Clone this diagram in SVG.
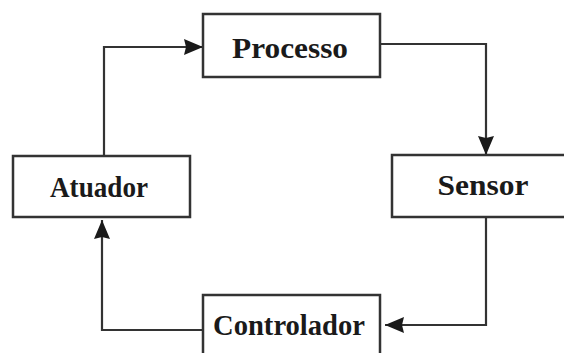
<svg xmlns="http://www.w3.org/2000/svg" width="564" height="353" viewBox="0 0 564 353">
  <style>
    .box { fill: #ffffff; stroke: #333333; stroke-width: 2.5; }
    .lbl { font-family: "Liberation Serif", "Times New Roman", serif; font-weight: bold; font-size: 29px; fill: #1a1a1a; text-anchor: middle; }
    .conn { fill: none; stroke: #333333; stroke-width: 2.2; }
  </style>
  <defs>
    <marker id="arr" markerUnits="userSpaceOnUse" markerWidth="22" markerHeight="18" refX="19" refY="8" orient="auto">
      <path d="M0,0 L19,8 L0,16 L2,8 z" fill="#1a1a1a"/>
    </marker>
  </defs>
  <rect x="0" y="0" width="564" height="353" fill="#ffffff"/>
  <g id="connectors">
    <path class="conn" d="M104,156 V47 H203" marker-end="url(#arr)"/>
    <path class="conn" d="M380,44 H486 V155" marker-end="url(#arr)"/>
    <path class="conn" d="M486,217 V325 H385" marker-end="url(#arr)"/>
    <path class="conn" d="M203,330 H102 V220" marker-end="url(#arr)"/>
  </g>
  <g id="processo">
    <rect class="box" x="203" y="14" width="177" height="63"/>
    <text class="lbl" x="290" y="58" textLength="116" lengthAdjust="spacingAndGlyphs">Processo</text>
  </g>
  <g id="sensor">
    <rect class="box" x="392" y="155" width="180" height="62"/>
    <text class="lbl" x="483" y="195" textLength="91" lengthAdjust="spacingAndGlyphs">Sensor</text>
  </g>
  <g id="atuador">
    <rect class="box" x="13" y="156" width="177" height="61"/>
    <text class="lbl" x="99" y="197" textLength="98" lengthAdjust="spacingAndGlyphs">Atuador</text>
  </g>
  <g id="controlador">
    <rect class="box" x="203" y="295" width="177" height="70"/>
    <text class="lbl" x="289" y="335" textLength="152" lengthAdjust="spacingAndGlyphs">Controlador</text>
  </g>
</svg>
